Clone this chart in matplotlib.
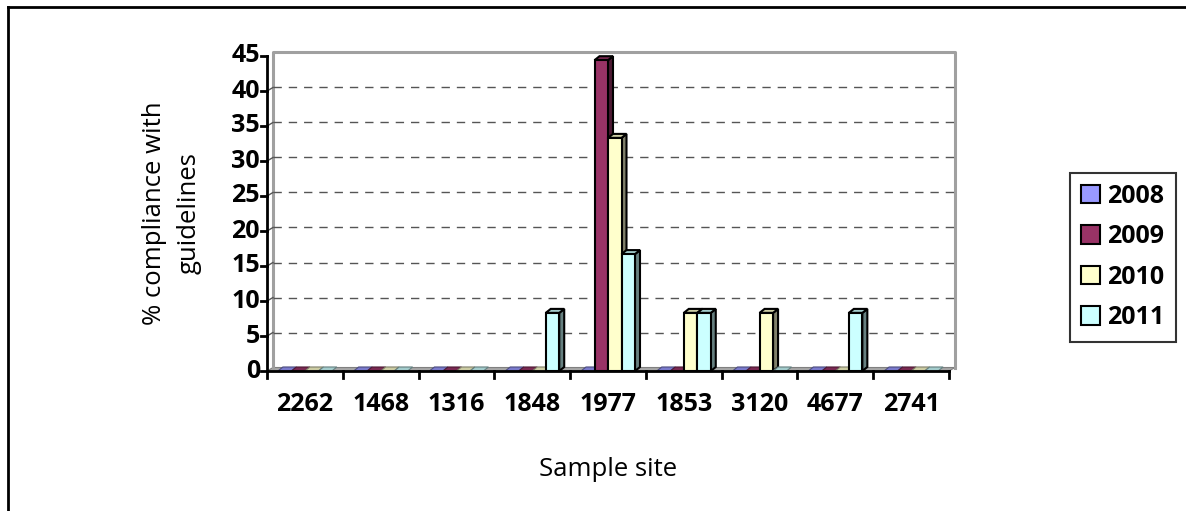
import matplotlib
matplotlib.use("Agg")
import matplotlib.pyplot as plt
from matplotlib.patches import Polygon, Patch, Rectangle
from matplotlib.lines import Line2D
import numpy as np

sites = ["2262", "1468", "1316", "1848", "1977", "1853", "3120", "4677", "2741"]
years = ["2008", "2009", "2010", "2011"]
v2008 = [0, 0, 0, 0, 0, 0, 0, 0, 0]
v2009 = [0, 0, 0, 0, 44.4, 0, 0, 0, 0]
v2010 = [0, 0, 0, 0, 33.3, 8.3, 8.3, 0, 0]
v2011 = [0, 0, 0, 8.3, 16.7, 8.3, 0, 8.3, 0]
series = [v2008, v2009, v2010, v2011]
yticks = [0, 5, 10, 15, 20, 25, 30, 35, 40, 45]

front = ["#9999FF", "#993366", "#FFFFCC", "#CCFFFF"]
top = ["#7a7acc", "#7a2952", "#cccca3", "#a3cccc"]
side = ["#4d4d80", "#4d1a33", "#80806a", "#668080"]

W, H = 1186, 511
fig = plt.figure(figsize=(W / 100, H / 100), dpi=100)
FONT = "Open Sans"
TICK = 18
LAB = 18.5

x0, x1 = 267, 949
y0, y1 = 371, 56
ax = fig.add_axes([x0 / W, 1 - y0 / H, (x1 - x0) / W, (y0 - y1) / H])
n = len(sites)
ax.set_xlim(0, n)
ax.set_ylim(0, 45)
for s in ax.spines.values():
    s.set_visible(False)
ax.set_xticks([])
ax.set_yticks([])

upx = n / (x1 - x0)         # data units per pixel x
upy = 45 / (y0 - y1)        # data units per pixel y
ddx, ddy = 6 * upx, 3.5 * upy   # back-wall offset
bdx, bdy = 5 * upx, 4 * upy     # bar depth

# back wall and floor
ax.add_patch(Polygon([(0, 0), (n, 0), (n + ddx, ddy), (ddx, ddy)], closed=True,
                     facecolor="#a6a6a6", edgecolor="#808080", lw=0.8, clip_on=False, zorder=1))
ax.plot([ddx, ddx, n + ddx, n + ddx], [ddy, 45 + ddy, 45 + ddy, ddy], color="#a0a0a0",
        lw=2.2, clip_on=False, zorder=1)
for t in yticks[1:-1]:
    ax.plot([ddx, n + ddx], [t + ddy, t + ddy], color="#555555", lw=1.0,
            dashes=(6, 5), clip_on=False, zorder=1)
    ax.plot([0, ddx], [t, t + ddy], color="#555555", lw=1.0, clip_on=False, zorder=1)

# bars
bw = 13.5 * upx
cluster = 4 * bw
for i in range(n):
    start = i + (1 - cluster) / 2
    for k, vals in enumerate(series):
        v = vals[i]
        xl = start + k * bw
        xr = xl + bw
        z = 3 + i * 0.01 + k * 0.001
        if v > 0:
            ax.add_patch(Polygon([(xr, 0), (xr + bdx, bdy), (xr + bdx, v + bdy), (xr, v)],
                                 closed=True, facecolor=side[k], edgecolor="black", lw=1.5,
                                 clip_on=False, zorder=z))
            ax.add_patch(Polygon([(xl, v), (xr, v), (xr + bdx, v + bdy), (xl + bdx, v + bdy)],
                                 closed=True, facecolor=top[k], edgecolor="black", lw=1.5,
                                 clip_on=False, zorder=z))
            ax.add_patch(Rectangle((xl, 0), bw, v, facecolor=front[k], edgecolor="black",
                                   lw=1.5, clip_on=False, zorder=z))
        else:
            ax.add_patch(Polygon([(xl, 0), (xr, 0), (xr + bdx, bdy), (xl + bdx, bdy)],
                                 closed=True, facecolor=top[k], edgecolor=side[k], lw=0.8,
                                 clip_on=False, zorder=z))

# axes lines and ticks
ax.plot([0, 0], [0, 45], color="black", lw=2, clip_on=False, zorder=10)
ax.plot([0, n], [0, 0], color="black", lw=2, clip_on=False, zorder=10)
for t in yticks:
    ax.plot([0, -6 * upx], [t, t], color="black", lw=2, clip_on=False, zorder=10)
    ax.text(-7 * upx, t, str(t), ha="right", va="center", fontsize=TICK,
            fontweight="bold", family=FONT)
for i in range(n + 1):
    ax.plot([i, i], [0, -7 * upy], color="black", lw=2, clip_on=False, zorder=10)
for i, s in enumerate(sites):
    ax.text(i + 0.5, -33 * upy, s, ha="center", va="center", fontsize=TICK,
            fontweight="bold", family=FONT)

fig.text(172 / W, 1 - 213 / H, "% compliance with\nguidelines", rotation=90,
         ha="center", va="center", fontsize=LAB, family=FONT, linespacing=1.5)
fig.text(608 / W, 1 - 470 / H, "Sample site", ha="center", va="center",
         fontsize=LAB, family=FONT)

handles = [Patch(facecolor=front[k], edgecolor="black", lw=1.5, label=years[k]) for k in range(4)]
leg = fig.legend(handles=handles, loc="center", bbox_to_anchor=(1123 / W, 1 - 257 / H),
                 frameon=True, fancybox=False, edgecolor="black", handlelength=0.75,
                 handleheight=0.75, handletextpad=0.3, labelspacing=0.62, borderpad=0.45,
                 borderaxespad=0, prop={"family": FONT, "weight": "bold", "size": TICK})
leg.get_frame().set_linewidth(1.5)

# outer border (left and top visible)
fig.add_artist(Line2D([8 / W, 8 / W], [0, 1 - 7 / H], color="black", lw=2,
                      transform=fig.transFigure))
fig.add_artist(Line2D([8 / W, 1], [1 - 7 / H, 1 - 7 / H], color="black", lw=2,
                      transform=fig.transFigure))

fig.savefig("out.png", dpi=100)
